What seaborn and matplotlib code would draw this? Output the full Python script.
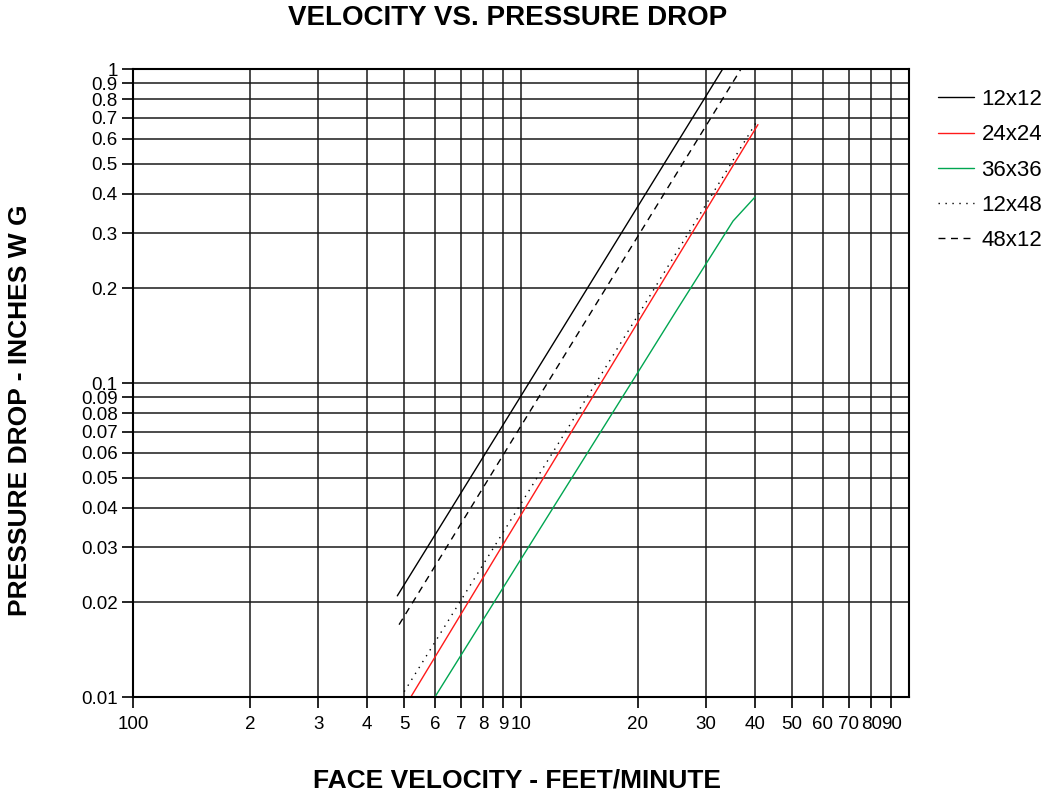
import pandas as pd
import matplotlib.pyplot as plt
import seaborn as sns
from matplotlib.ticker import FixedLocator, FixedFormatter, NullLocator

sns.set_theme(style="white")
plt.rcParams['font.family'] = ['Liberation Sans', 'DejaVu Sans']
plt.rcParams['text.color'] = 'black'
plt.rcParams['axes.labelcolor'] = 'black'
plt.rcParams['xtick.color'] = 'black'
plt.rcParams['ytick.color'] = 'black'

# Values (face velocity vs pressure drop)
v_12x12 = [4.8, 10, 20, 33.1]
p_12x12 = [0.021, 0.091, 0.365, 1.0]

v_24x24 = [5.2, 10, 20, 40.8]
p_24x24 = [0.010, 0.038, 0.156, 0.665]

v_36x36 = [6.0, 10, 20, 25, 35.2, 40.1]
p_36x36 = [0.010, 0.0275, 0.108, 0.168, 0.328, 0.391]

v_12x48 = [5.0, 10, 20, 40.9]
p_12x48 = [0.0104, 0.0413, 0.164, 0.693]

v_48x12 = [4.85, 10, 20, 36.9]
p_48x12 = [0.017, 0.073, 0.293, 1.0]

x_ticks = [1, 2, 3, 4, 5, 6, 7, 8, 9, 10, 20, 30, 40, 50, 60, 70, 80, 90]
x_tick_labels = ['100', '2', '3', '4', '5', '6', '7', '8', '9', '10',
                 '20', '30', '40', '50', '60', '70', '80', '90']
y_ticks = [0.01, 0.02, 0.03, 0.04, 0.05, 0.06, 0.07, 0.08, 0.09,
           0.1, 0.2, 0.3, 0.4, 0.5, 0.6, 0.7, 0.8, 0.9, 1]
y_tick_labels = ['0.01', '0.02', '0.03', '0.04', '0.05', '0.06', '0.07', '0.08', '0.09',
                 '0.1', '0.2', '0.3', '0.4', '0.5', '0.6', '0.7', '0.8', '0.9', '1']

series = [
    ('12x12', v_12x12, p_12x12, 'black', '-'),
    ('24x24', v_24x24, p_24x24, '#ff1a1a', '-'),
    ('36x36', v_36x36, p_36x36, '#00a651', '-'),
    ('12x48', v_12x48, p_12x48, 'black', (0, (1, 4))),
    ('48x12', v_48x12, p_48x12, 'black', (0, (5, 4))),
]

fig = plt.figure(figsize=(10.5, 7.96), dpi=100)
ax = fig.add_axes([133 / 1050, 1 - 697 / 796, (909 - 133) / 1050, (697 - 69) / 796])

for name, v, p, color, ls in series:
    df = pd.DataFrame({'velocity': v, 'pressure': p})
    sns.lineplot(data=df, x='velocity', y='pressure', ax=ax, color=color,
                 linestyle=ls, linewidth=1.0, label=name, sort=False)

ax.set_xscale('log')
ax.set_yscale('log')
ax.set_xlim(1, 100)
ax.set_ylim(0.01, 1)

ax.xaxis.set_major_locator(FixedLocator(x_ticks))
ax.xaxis.set_major_formatter(FixedFormatter(x_tick_labels))
ax.xaxis.set_minor_locator(NullLocator())
ax.yaxis.set_major_locator(FixedLocator(y_ticks))
ax.yaxis.set_major_formatter(FixedFormatter(y_tick_labels))
ax.yaxis.set_minor_locator(NullLocator())

ax.grid(True, which='major', color='#1a1a1a', linewidth=1.1)
ax.tick_params(axis='both', which='major', direction='out', length=8, width=1.2,
               color='black', labelsize=13.5, bottom=True, left=True)
ax.tick_params(axis='x', pad=6)
ax.tick_params(axis='y', pad=3)
for s in ax.spines.values():
    s.set_color('black')
    s.set_linewidth(1.5)

ax.set_xlabel('')
ax.set_ylabel('')
fig.text(517 / 1050, 1 - 780 / 796, 'FACE VELOCITY - FEET/MINUTE', fontsize=19,
         fontweight='bold', ha='center', va='center')
fig.text(20 / 1050, 1 - 410 / 796, 'PRESSURE DROP - INCHES W G', fontsize=19,
         fontweight='bold', ha='center', va='center', rotation=90)
fig.text(508 / 1050, 1 - 18 / 796, 'VELOCITY VS. PRESSURE DROP', fontsize=20,
         fontweight='bold', ha='center', va='center')

leg = ax.legend(loc='upper left', bbox_to_anchor=(1.026, 0.982), frameon=False,
                fontsize=16, handlelength=1.6, labelspacing=0.64, handletextpad=0.35,
                borderaxespad=0.0)

plt.savefig('out.png', dpi=100)
